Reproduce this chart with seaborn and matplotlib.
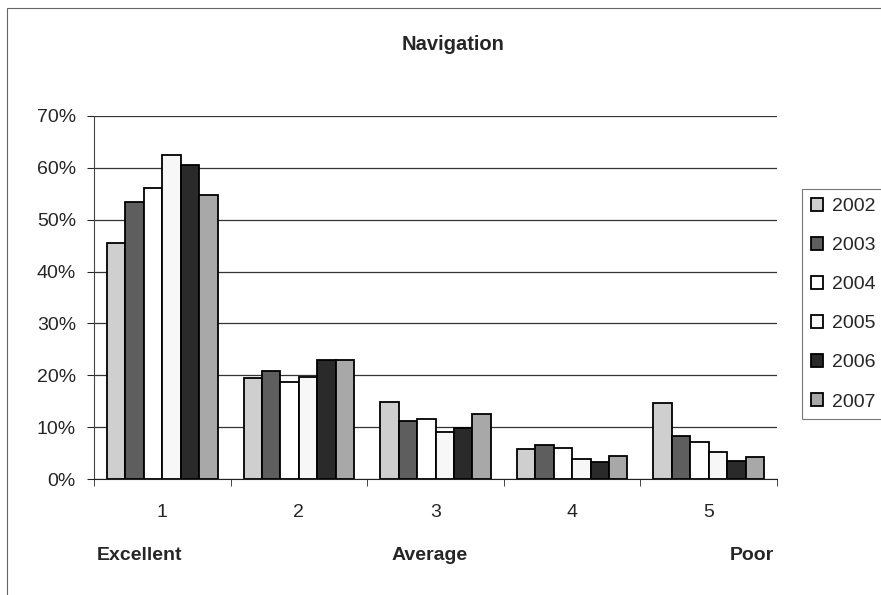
import pandas as pd
import seaborn as sns
import matplotlib.pyplot as plt
from matplotlib.patches import Rectangle
from matplotlib.ticker import PercentFormatter, FixedLocator

ratings = ["1", "2", "3", "4", "5"]
years = ["2002", "2003", "2004", "2005", "2006", "2007"]
share_2002 = [45.5, 19.4, 14.9, 5.8, 14.6]
share_2003 = [53.5, 20.8, 11.2, 6.5, 8.2]
share_2004 = [56.2, 18.8, 11.5, 6.0, 7.2]
share_2005 = [62.4, 19.7, 9.1, 3.8, 5.2]
share_2006 = [60.5, 23.0, 9.9, 3.3, 3.4]
share_2007 = [54.7, 23.0, 12.6, 4.4, 4.3]
year_colors = ["#cfcfcf", "#5e5e5e", "#ffffff", "#f7f7f7", "#2a2a2a", "#a8a8a8"]

series = [share_2002, share_2003, share_2004, share_2005, share_2006, share_2007]
rows = []
for yr, vals in zip(years, series):
    for r, v in zip(ratings, vals):
        rows.append({"rating": r, "year": yr, "share": v})
df = pd.DataFrame(rows)

sns.set_style("white")
plt.rcParams["font.family"] = ["Liberation Sans", "DejaVu Sans"]

fig = plt.figure(figsize=(8.81, 5.95), dpi=100)
# plot area in pixels: x 94..777, y 116..479
ax = fig.add_axes([94 / 881, 1 - 479 / 595, (777 - 94) / 881, (479 - 116) / 595])

sns.barplot(data=df, x="rating", y="share", hue="year", order=ratings, hue_order=years,
            palette=dict(zip(years, year_colors)), width=0.81, edgecolor="black",
            linewidth=1.3, saturation=1, ax=ax)

ax.set_ylim(0, 70)
ax.set_xlim(-0.5, 4.5)
ax.yaxis.set_major_locator(FixedLocator(range(0, 71, 10)))
ax.yaxis.set_major_formatter(PercentFormatter(decimals=0))
ax.grid(axis="y", color="#333333", linewidth=0.9)
ax.set_axisbelow(True)
for s in ["top", "right"]:
    ax.spines[s].set_visible(False)
ax.spines["left"].set_color("#444444")
ax.spines["bottom"].set_color("#222222")
ax.set_xlabel("")
ax.set_ylabel("")
ax.tick_params(axis="y", labelsize=14, length=5, direction="out", left=True, pad=8)
ax.tick_params(axis="x", labelsize=14, length=0, pad=18)
ax.set_xticks([i + 0.5 for i in range(-1, 5)], minor=True)
ax.tick_params(axis="x", which="minor", length=5, bottom=True, direction="out")

fig.text(453 / 881, 1 - 44 / 595, "Navigation", ha="center", va="center",
         fontsize=14.5, fontweight="bold")

leg = ax.legend(loc="upper left", bbox_to_anchor=(802 / 881, 1 - 189 / 595),
                bbox_transform=fig.transFigure, frameon=True, fontsize=14,
                handlelength=0.65, handleheight=0.65, handletextpad=0.45,
                labelspacing=1.12, borderpad=0.45, borderaxespad=0, fancybox=False)
leg.get_frame().set_edgecolor("#555555")
leg.get_frame().set_linewidth(0.8)

fig.text(140 / 881, 1 - 556 / 595, "Excellent", ha="center", va="center", fontsize=14, fontweight="bold")
fig.text(430 / 881, 1 - 556 / 595, "Average", ha="center", va="center", fontsize=14, fontweight="bold")
fig.text(752 / 881, 1 - 556 / 595, "Poor", ha="center", va="center", fontsize=14, fontweight="bold")

fig.patches.append(Rectangle((7 / 881, -0.1), 1.1, 1 - 8 / 595 + 0.1, transform=fig.transFigure,
                             fill=False, edgecolor="#666666", linewidth=0.8))

fig.savefig("out.png", dpi=100)
